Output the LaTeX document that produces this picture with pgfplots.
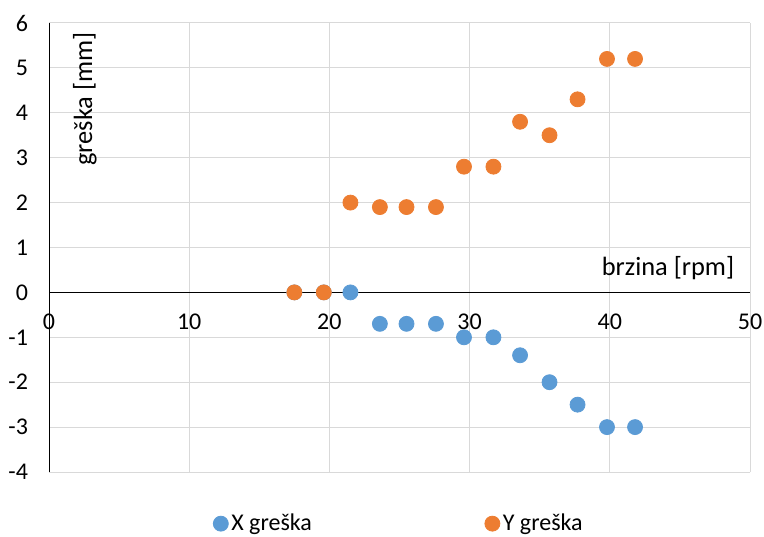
\documentclass[border=0pt]{standalone}
\usepackage{fontspec}
\setmainfont{Carlito}
\usepackage{pgfplots}
\pgfplotsset{compat=1.18}
\definecolor{xblue}{HTML}{5B9BD5}
\definecolor{yorange}{HTML}{ED7D31}
\definecolor{gridgray}{HTML}{D9D9D9}
\begin{document}
\begin{tikzpicture}
\path[use as bounding box] (0,0) rectangle (382pt,268pt);
\begin{axis}[
    at={(24.5pt,32pt)}, anchor=south west,
    scale only axis, width=350.5pt, height=224.5pt,
    xmin=0, xmax=50, ymin=-4, ymax=6,
    xtick={0,10,...,50}, ytick={-4,-3,...,6},
    enlargelimits=false,
    axis x line=middle, axis y line=left,
    axis line style={-, black, line width=0.5pt},
    hide obscured x ticks=false, hide obscured y ticks=false,
    major tick length=0pt,
    grid=major, major grid style={gridgray, line width=0.5pt},
    /pgf/number format/assume math mode=true,
    ticklabel style={font=\fontsize{12}{14}\selectfont},
    xticklabel style={yshift=-7pt},
    yticklabel style={xshift=-7pt},
    xlabel={brzina [rpm]}, ylabel={greška [mm]},
    xlabel style={at={(rel axis cs:0.883,0.454)}, anchor=center, font=\fontsize{13.2}{15}\selectfont},
    ylabel style={at={(rel axis cs:0.051,0.831)}, anchor=center, font=\fontsize{13.2}{15}\selectfont},
    legend style={draw=none, at={(0.5,-0.115)}, anchor=center, legend columns=2,
        font=\fontsize{12}{14}\selectfont,
        /tikz/every even column/.append style={column sep=85pt},
        nodes={inner xsep=1.5pt}},
    clip=false,
]
\addplot[only marks, mark=*, mark size=3.75pt, color=xblue] coordinates {
    (17.5,0) (19.6,0) (21.5,0) (23.6,-0.7) (25.5,-0.7) (27.6,-0.7) (29.6,-1.0)
    (31.7,-1.0) (33.6,-1.4) (35.7,-2.0) (37.7,-2.5) (39.8,-3.0) (41.8,-3.0)};
\addlegendentry{X greška}
\addplot[only marks, mark=*, mark size=3.75pt, color=yorange] coordinates {
    (17.5,0) (19.6,0) (21.5,2.0) (23.6,1.9) (25.5,1.9) (27.6,1.9) (29.6,2.8)
    (31.7,2.8) (33.6,3.8) (35.7,3.5) (37.7,4.3) (39.8,5.2) (41.8,5.2)};
\addlegendentry{Y greška}
\end{axis}
\end{tikzpicture}
\end{document}
